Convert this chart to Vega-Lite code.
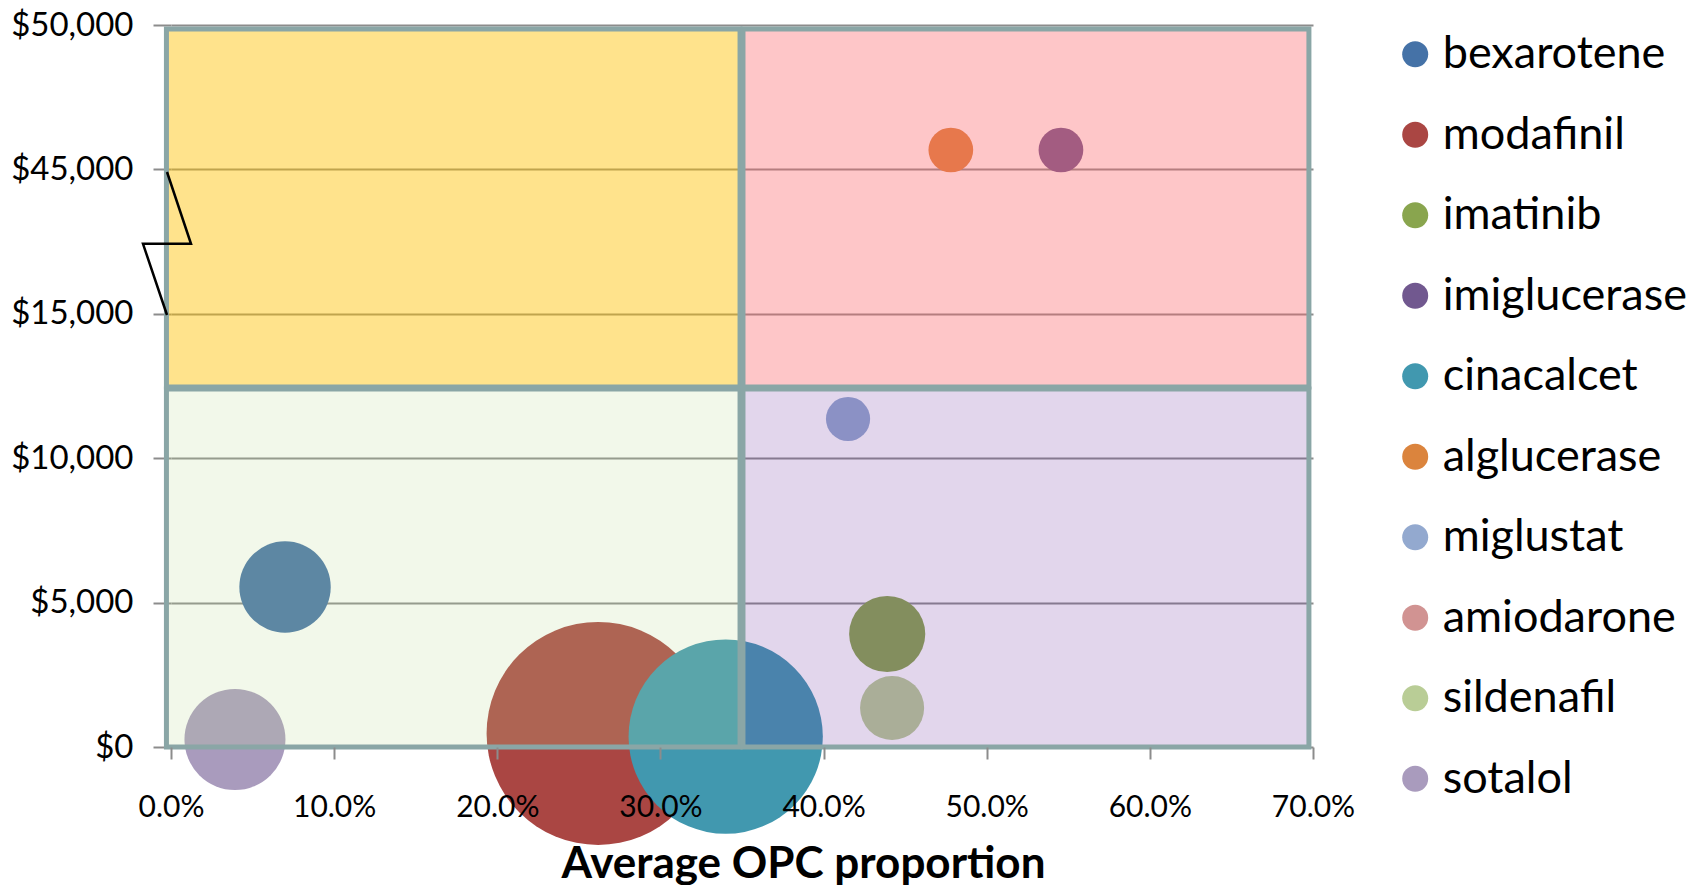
{
  "$schema": "https://vega.github.io/schema/vega-lite/v6.json",
  "width": 1142,
  "height": 722,
  "autosize": {"type": "none"},
  "padding": {"left": 171, "top": 25, "right": 389, "bottom": 138},
  "background": "white",
  "config": {"font": "Lato", "view": {"stroke": null}},
  "datasets": {
    "drugs": [
      {"drug": "bexarotene", "opc": 0.0699, "cost": 5540, "bubble": 16.7},
      {"drug": "modafinil", "opc": 0.2618, "cost": 470, "bubble": 99.5},
      {"drug": "imatinib", "opc": 0.439, "cost": 3913, "bubble": 11.6},
      {"drug": "imiglucerase", "opc": 0.5455, "cost": 45672, "bubble": 4.0},
      {"drug": "cinacalcet", "opc": 0.340, "cost": 360, "bubble": 75.5},
      {"drug": "alglucerase", "opc": 0.478, "cost": 45672, "bubble": 4.0},
      {"drug": "miglustat", "opc": 0.415, "cost": 11357, "bubble": 3.9},
      {"drug": "sildenafil", "opc": 0.442, "cost": 1350, "bubble": 8.2},
      {"drug": "sotalol", "opc": 0.0392, "cost": 260, "bubble": 20.4}
    ],
    "quads": [
      {"quad": "top-left", "opc": -0.0028, "opc2": 0.3488, "cost": 12465, "cost2": 49860},
      {"quad": "top-right", "opc": 0.3506, "opc2": 0.6975, "cost": 12465, "cost2": 49860},
      {"quad": "bottom-left", "opc": -0.0028, "opc2": 0.3488, "cost": 0, "cost2": 12396},
      {"quad": "bottom-right", "opc": 0.3506, "opc2": 0.6975, "cost": 0, "cost2": 12396}
    ],
    "axisbreak": [
      {"k": 1, "opc": -0.00245, "cost": 44461},
      {"k": 2, "opc": 0.01226, "cost": 29543},
      {"k": 3, "opc": -0.01717, "cost": 29543},
      {"k": 4, "opc": -0.00245, "cost": 14958}
    ]
  },
  "encoding": {
    "x": {
      "field": "opc",
      "type": "quantitative",
      "title": "Average OPC proportion",
      "scale": {"domain": [0, 0.7], "nice": false, "zero": false},
      "axis": {
        "values": [0, 0.1, 0.2, 0.3, 0.4, 0.5, 0.6, 0.7],
        "format": ".1%",
        "labelFontSize": 30,
        "labelColor": "black",
        "labelPadding": 33,
        "labelFlush": false,
        "labelOverlap": false,
        "tickSize": 12,
        "tickColor": "#8c8c8c",
        "tickWidth": 2,
        "domain": false,
        "grid": false,
        "titleFont": "Lato",
        "titleFontWeight": "bold",
        "titleFontSize": 44,
        "titleColor": "black",
        "titleX": 632,
        "titleY": 130,
        "titleAlign": "center",
        "titleBaseline": "alphabetic",
        "zindex": 1
      }
    },
    "y": {
      "field": "cost",
      "type": "quantitative",
      "title": null,
      "scale": {"domain": [0, 15000, 45000, 50000], "range": [722, 288.8, 144.4, 0], "nice": false, "zero": false},
      "axis": {
        "values": [0, 5000, 10000, 15000, 45000, 50000],
        "format": "$,.0f",
        "labelFontSize": 33,
        "labelColor": "black",
        "labelPadding": 20,
        "labelFlush": false,
        "labelOverlap": false,
        "tickSize": 18,
        "tickColor": "#8c8c8c",
        "tickWidth": 2,
        "domain": false,
        "grid": true,
        "gridColor": "#8c8c8c",
        "gridWidth": 2,
        "zindex": 0
      }
    }
  },
  "layer": [
    {
      "data": {"name": "drugs"},
      "mark": {"type": "circle", "opacity": 1, "clip": false},
      "encoding": {
        "size": {"field": "bubble", "type": "quantitative", "scale": {"domain": [0, 100], "range": [0, 50000]}, "legend": null},
        "color": {
          "field": "drug",
          "type": "nominal",
          "scale": {
            "domain": ["bexarotene", "modafinil", "imatinib", "imiglucerase", "cinacalcet", "alglucerase", "miglustat", "amiodarone", "sildenafil", "sotalol"],
            "range": ["#4572A7", "#AA4643", "#89A54E", "#71588F", "#4198AF", "#DB843D", "#93A9CF", "#D19392", "#B9CD96", "#A99BBD"]
          },
          "legend": {
            "orient": "none",
            "legendX": 1221.7,
            "legendY": 6.8,
            "title": null,
            "symbolType": "circle",
            "symbolSize": 676,
            "symbolOpacity": 1,
            "symbolStrokeWidth": 0,
            "labelFontSize": 45,
            "labelFont": "Lato",
            "labelColor": "black",
            "labelLimit": 400,
            "labelOffset": 5,
            "rowPadding": 34.5,
            "padding": 0
          }
        }
      }
    },
    {
      "data": {"name": "quads"},
      "transform": [{"filter": "datum.quad === 'top-left'"}],
      "mark": {"type": "rect", "fill": "#FFC000", "fillOpacity": 0.45, "stroke": "#8aa6a6", "strokeWidth": 5, "clip": false},
      "encoding": {"x2": {"field": "opc2"}, "y2": {"field": "cost2"}}
    },
    {
      "data": {"name": "quads"},
      "transform": [{"filter": "datum.quad === 'top-right'"}],
      "mark": {"type": "rect", "fill": "#FC6369", "fillOpacity": 0.366, "stroke": "#8aa6a6", "strokeWidth": 5, "clip": false},
      "encoding": {"x2": {"field": "opc2"}, "y2": {"field": "cost2"}}
    },
    {
      "data": {"name": "quads"},
      "transform": [{"filter": "datum.quad === 'bottom-left'"}],
      "mark": {"type": "rect", "fill": "#BEDC96", "fillOpacity": 0.2, "stroke": "#8aa6a6", "strokeWidth": 5, "clip": false},
      "encoding": {"x2": {"field": "opc2"}, "y2": {"field": "cost2"}}
    },
    {
      "data": {"name": "quads"},
      "transform": [{"filter": "datum.quad === 'bottom-right'"}],
      "mark": {"type": "rect", "fill": "#7030A0", "fillOpacity": 0.2, "stroke": "#8aa6a6", "strokeWidth": 5, "clip": false},
      "encoding": {"x2": {"field": "opc2"}, "y2": {"field": "cost2"}}
    },
    {
      "data": {"name": "axisbreak"},
      "mark": {"type": "line", "color": "black", "strokeWidth": 2.5, "clip": false},
      "encoding": {"order": {"field": "k", "type": "quantitative"}}
    }
  ]
}
